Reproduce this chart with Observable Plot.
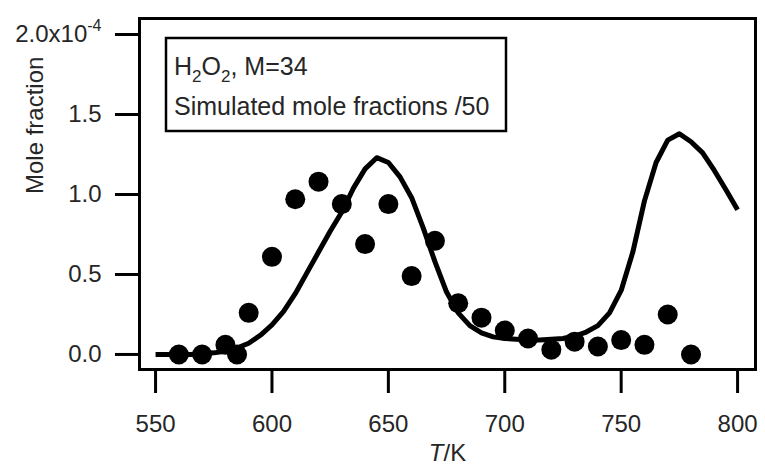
<!DOCTYPE html>
<html>
<head>
<meta charset="utf-8">
<script src="https://cdn.jsdelivr.net/npm/d3@7"></script>
<script src="https://cdn.jsdelivr.net/npm/@observablehq/plot@0.6"></script>
<style>
  body { margin: 0; background: #fff; }
</style>
</head>
<body>
<div id="chart"></div>
<script>
// Axis ticks
const xTicks = [550, 600, 650, 700, 750, 800];
const yTicks = [0, 0.5, 1.0, 1.5, 2.0]; // units of 1e-4

// Measured mole fractions (units of 1e-4)
const obsT = [560, 570, 580, 585, 590, 600, 610, 620, 630, 640, 650, 660, 670, 680, 690, 700, 710, 720, 730, 740, 750, 760, 770, 780];
const obsV = [0, 0, 0.06, 0, 0.26, 0.61, 0.97, 1.08, 0.94, 0.69, 0.94, 0.49, 0.71, 0.32, 0.23, 0.15, 0.10, 0.03, 0.08, 0.05, 0.09, 0.06, 0.25, 0];

// Simulated mole fractions /50 (units of 1e-4)
const simT = [550, 555, 560, 565, 570, 575, 580, 585, 590, 595, 600, 605, 610, 615, 620, 625, 630, 635, 640, 645, 650, 655, 660, 665, 670, 675, 680, 685, 690, 695, 700, 705, 710, 715, 720, 725, 730, 735, 740, 745, 750, 755, 760, 765, 770, 775, 780, 785, 790, 795, 800];
const simV = [0, 0, 0, 0, 0.005, 0.01, 0.02, 0.04, 0.07, 0.12, 0.185, 0.27, 0.38, 0.51, 0.64, 0.77, 0.89, 1.04, 1.16, 1.23, 1.20, 1.11, 0.98, 0.79, 0.58, 0.39, 0.26, 0.18, 0.135, 0.11, 0.10, 0.095, 0.09, 0.09, 0.095, 0.10, 0.115, 0.14, 0.18, 0.26, 0.40, 0.64, 0.96, 1.20, 1.34, 1.38, 1.33, 1.26, 1.15, 1.03, 0.905];

const xLabel = "T/K";
const yLabel = "Mole fraction";
const legendLine1 = ["H", "2", "O", "2", ", M=34"];
const legendLine2 = "Simulated mole fractions /50";

const obs = obsT.map((t, i) => ({t, v: obsV[i]}));
const sim = simT.map((t, i) => ({t, v: simV[i]}));

const font = '"Liberation Sans", Arial, Helvetica, sans-serif';
const textColor = "#262626";

const svg = Plot.plot({
  width: 765,
  height: 470,
  marginLeft: 139,
  marginRight: 10,
  marginTop: 18,
  marginBottom: 101,
  style: {fontFamily: font, fontSize: "24px", color: "#000", background: "#fff"},
  x: {domain: [543.1, 807.7]},
  y: {domain: [-0.094, 2.1]},
  marks: [
    Plot.axisX({ticks: xTicks, tickSize: 24, tickPadding: 21, strokeWidth: 3, fontSize: 24, label: null, tickFormat: d => String(d)}),
    Plot.axisY({ticks: yTicks, tickSize: 24, tickPadding: 14, strokeWidth: 3, fontSize: 24, label: null,
      tickFormat: d => d === 2 ? "2.0x10" : d.toFixed(1)}),
    Plot.line(sim, {x: "t", y: "v", stroke: "#000", strokeWidth: 5, strokeLinejoin: "round", strokeLinecap: "butt"}),
    Plot.dot(obs, {x: "t", y: "v", r: 10, fill: "#000", stroke: "none"}),
    Plot.frame({stroke: "#000", strokeWidth: 3}),
    Plot.text([yLabel], {frameAnchor: "left", rotate: -90, dx: -104, fontSize: 24}),
    Plot.text([xLabel], {frameAnchor: "bottom", dy: 91, fontSize: 24})
  ]
});

const s = d3.select(svg);
s.selectAll("text").attr("fill", textColor);
s.selectAll('g[aria-label="x-axis tick"], g[aria-label="y-axis tick"]').attr("stroke-width", 3);
s.selectAll('g[aria-label="frame"], rect[aria-label="frame"]').attr("stroke-width", 3);

// superscript on top y tick
s.selectAll("text").filter(function() { return this.textContent === "2.0x10"; })
  .append("tspan").attr("font-size", 16).attr("dy", "-0.7em").text("-4");

// italic T in x label
s.selectAll("text").filter(function() { return this.textContent === xLabel; })
  .each(function() {
    const t = d3.select(this);
    t.text(null);
    t.append("tspan").attr("font-style", "italic").text("T");
    t.append("tspan").text("/K");
  });

// legend box
const lg = s.append("g").attr("font-family", font).attr("fill", textColor).attr("text-anchor", "start");
lg.append("rect").attr("x", 166).attr("y", 38).attr("width", 340).attr("height", 93)
  .attr("fill", "#fff").attr("stroke", "#000").attr("stroke-width", 2.5);
const t1 = lg.append("text").attr("x", 174).attr("y", 75).attr("font-size", 25).attr("text-anchor", "start");
t1.append("tspan").text(legendLine1[0]);
t1.append("tspan").attr("font-size", 17).attr("dy", 7).text(legendLine1[1]);
t1.append("tspan").attr("dy", -7).text(legendLine1[2]);
t1.append("tspan").attr("font-size", 17).attr("dy", 7).text(legendLine1[3]);
t1.append("tspan").attr("dy", -7).text(legendLine1[4]);
lg.append("text").attr("x", 174).attr("y", 115).attr("font-size", 25).attr("text-anchor", "start").text(legendLine2);

document.getElementById("chart").appendChild(svg);
</script>
</body>
</html>
